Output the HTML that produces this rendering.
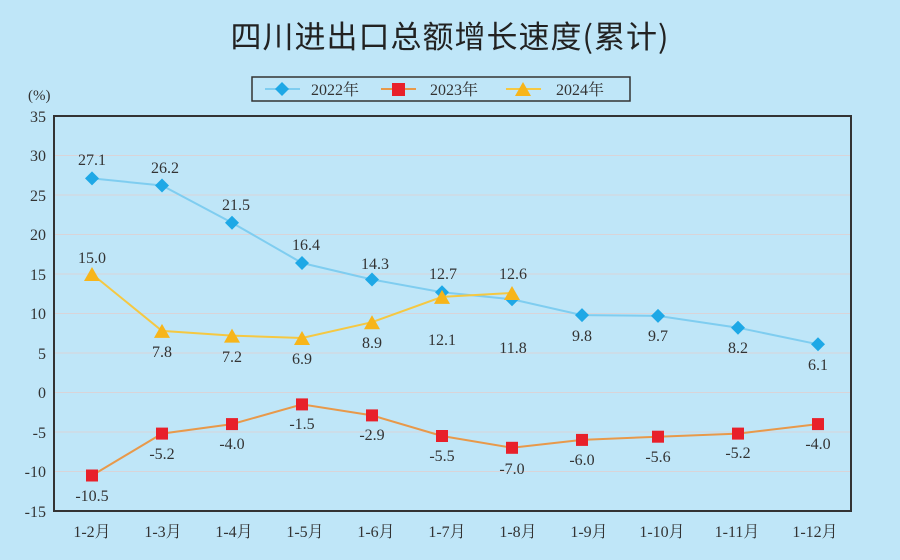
<!DOCTYPE html>
<html><head><meta charset="utf-8"><style>
html,body{margin:0;padding:0;background:#bfe6f8;}
svg{display:block}
</style></head><body>
<svg width="900" height="560" viewBox="0 0 900 560" xmlns="http://www.w3.org/2000/svg" font-family="Liberation Serif, 'Noto Serif CJK SC', serif">
<rect width="900" height="560" fill="#bfe6f8"/>
<text x="450" y="48" text-anchor="middle" font-family="'Noto Sans CJK SC',sans-serif" font-size="31" letter-spacing="1" fill="#222">四川进出口总额增长速度(累计)</text>
<text x="28" y="100" font-size="15" fill="#333">(%)</text>
<!-- legend -->
<rect x="252" y="77" width="378" height="24" fill="none" stroke="#333" stroke-width="1.5"/>
<line x1="265" y1="89" x2="300" y2="89" stroke="#7fcdf0" stroke-width="2"/>
<polygon points="282,82 289,89 282,96 275,89" fill="#1ea8e6"/>
<text x="311" y="95" font-size="16" fill="#333">2022年</text>
<line x1="381" y1="89" x2="416" y2="89" stroke="#e8994a" stroke-width="2"/>
<rect x="392" y="83" width="13" height="13" fill="#e8202a"/>
<text x="430" y="95" font-size="16" fill="#333">2023年</text>
<line x1="506" y1="89" x2="541" y2="89" stroke="#f5c842" stroke-width="2"/>
<polygon points="523,82 531,96 515,96" fill="#f7b51a"/>
<text x="556" y="95" font-size="16" fill="#333">2024年</text>
<!-- grid -->
<g stroke="#d9d4d8" stroke-width="1">
<line x1="54" y1="155.5" x2="851" y2="155.5"/><line x1="54" y1="195" x2="851" y2="195"/>
<line x1="54" y1="234.5" x2="851" y2="234.5"/><line x1="54" y1="274" x2="851" y2="274"/>
<line x1="54" y1="313.5" x2="851" y2="313.5"/><line x1="54" y1="353" x2="851" y2="353"/>
<line x1="54" y1="392.5" x2="851" y2="392.5"/><line x1="54" y1="432" x2="851" y2="432"/>
<line x1="54" y1="471.5" x2="851" y2="471.5"/>
</g>
<rect x="54" y="116" width="797" height="395" fill="none" stroke="#333" stroke-width="2"/>
<g font-size="16" fill="#333" text-anchor="end">
<text x="46" y="122">35</text><text x="46" y="161">30</text><text x="46" y="201">25</text>
<text x="46" y="240">20</text><text x="46" y="280">15</text><text x="46" y="319">10</text>
<text x="46" y="359">5</text><text x="46" y="398">0</text><text x="46" y="438">-5</text>
<text x="46" y="477">-10</text><text x="46" y="517">-15</text>
</g>
<g font-size="16" fill="#333" text-anchor="middle">
<text x="92" y="537">1-2月</text><text x="163" y="537">1-3月</text><text x="234" y="537">1-4月</text>
<text x="305" y="537">1-5月</text><text x="376" y="537">1-6月</text><text x="447" y="537">1-7月</text>
<text x="518" y="537">1-8月</text><text x="589" y="537">1-9月</text><text x="662" y="537">1-10月</text>
<text x="737" y="537">1-11月</text><text x="815" y="537">1-12月</text>
</g>
<!-- 2022 -->
<polyline fill="none" stroke="#7fcdf0" stroke-width="2" points="92,178.4 162,185.5 232,222.7 302,263 372,279.5 442,292.2 512,299.3 582,315.1 658,315.9 738,327.7 818,344.3"/>
<g fill="#1ea8e6">
<polygon points="92,171.4 99,178.4 92,185.4 85,178.4"/><polygon points="162,178.5 169,185.5 162,192.5 155,185.5"/>
<polygon points="232,215.7 239,222.7 232,229.7 225,222.7"/><polygon points="302,256 309,263 302,270 295,263"/>
<polygon points="372,272.5 379,279.5 372,286.5 365,279.5"/><polygon points="442,285.2 449,292.2 442,299.2 435,292.2"/>
<polygon points="512,292.3 519,299.3 512,306.3 505,299.3"/><polygon points="582,308.1 589,315.1 582,322.1 575,315.1"/>
<polygon points="658,308.9 665,315.9 658,322.9 651,315.9"/><polygon points="738,320.7 745,327.7 738,334.7 731,327.7"/>
<polygon points="818,337.3 825,344.3 818,351.3 811,344.3"/>
</g>
<!-- 2024 -->
<polyline fill="none" stroke="#f5c842" stroke-width="2" points="92,274 162,330.9 232,335.6 302,338 372,322.2 442,296.9 512,293"/>
<g fill="#f7b51a">
<polygon points="92,267 100,281 84,281"/><polygon points="162,323.9 170,337.9 154,337.9"/>
<polygon points="232,328.6 240,342.6 224,342.6"/><polygon points="302,331 310,345 294,345"/>
<polygon points="372,315.2 380,329.2 364,329.2"/><polygon points="442,289.9 450,303.9 434,303.9"/>
<polygon points="512,286 520,300 504,300"/>
</g>
<!-- 2023 -->
<polyline fill="none" stroke="#e8994a" stroke-width="2" points="92,475.5 162,433.6 232,424.1 302,404.4 372,415.4 442,436 512,447.8 582,439.9 658,436.7 738,433.6 818,424.1"/>
<g fill="#e8202a">
<rect x="86" y="469.5" width="12" height="12"/><rect x="156" y="427.6" width="12" height="12"/>
<rect x="226" y="418.1" width="12" height="12"/><rect x="296" y="398.4" width="12" height="12"/>
<rect x="366" y="409.4" width="12" height="12"/><rect x="436" y="430" width="12" height="12"/>
<rect x="506" y="441.8" width="12" height="12"/><rect x="576" y="433.9" width="12" height="12"/>
<rect x="652" y="430.7" width="12" height="12"/><rect x="732" y="427.6" width="12" height="12"/>
<rect x="812" y="418.1" width="12" height="12"/>
</g>
<g font-size="16" fill="#333" text-anchor="middle">
<text x="92" y="165">27.1</text><text x="165" y="173">26.2</text><text x="236" y="210">21.5</text>
<text x="306" y="250">16.4</text><text x="375" y="269">14.3</text><text x="443" y="279">12.7</text>
<text x="513" y="353">11.8</text><text x="582" y="341">9.8</text><text x="658" y="341">9.7</text>
<text x="738" y="353">8.2</text><text x="818" y="370">6.1</text>
<text x="92" y="263">15.0</text><text x="162" y="357">7.8</text><text x="232" y="362">7.2</text>
<text x="302" y="364">6.9</text><text x="372" y="348">8.9</text><text x="442" y="345">12.1</text>
<text x="513" y="279">12.6</text>
<text x="92" y="501">-10.5</text><text x="162" y="459">-5.2</text><text x="232" y="449">-4.0</text>
<text x="302" y="429">-1.5</text><text x="372" y="440">-2.9</text><text x="442" y="461">-5.5</text>
<text x="512" y="474">-7.0</text><text x="582" y="465">-6.0</text><text x="658" y="462">-5.6</text>
<text x="738" y="458">-5.2</text><text x="818" y="449">-4.0</text>
</g>
</svg>
</body></html>
